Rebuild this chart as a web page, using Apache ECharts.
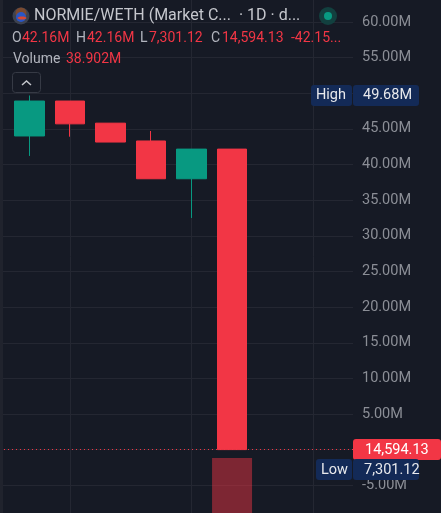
<!DOCTYPE html>
<html><head><meta charset="utf-8">
<style>html,body{margin:0;padding:0;background:#161a25}#c{width:441px;height:513px}</style>
<script src="https://cdn.jsdelivr.net/npm/echarts@6/dist/echarts.min.js"></script>
</head><body><div id="c"></div>
<script>
const categories = ['d1','d2','d3','d4','d5','d6','d7','d8','d9'];
const opens  = [44.0, 48.9, 45.8, 43.3, 38.0, 42.16];
const closes = [48.9, 45.7, 43.15, 38.0, 42.16, 0.0146];
const lows   = [41.2, 43.9, 43.15, 38.0, 32.5, 0.0073];
const highs  = [49.68, 48.9, 45.8, 44.7, 42.16, 42.16];
const volumes = [null, null, null, null, null, 38.902];
const lastClose = 0.0146;
const FONT = 'Roboto';
const UP='#089981', DOWN='#f23645', GRID='#242732', BG='#161a25';
const AX='#8b8e96';

const chart = echarts.init(document.getElementById('c'), null, {renderer:'canvas'});
const yMin=-10, yMax=65;
const gridTop=-13.75, gridBottom=-8;
function txt(x,y,text,fill,size,extra){return Object.assign({type:'text',x,y,z:50,style:{text,fill,font:`${size||14}px ${FONT}`,textVerticalAlign:'middle'}},extra||{});}
function tag(x,y,w,h,fill,r){return {type:'rect',z:40,shape:{x,y,width:w,height:h,r:r||0},style:{fill}};}
const candleData = opens.map((o,i)=>[o,closes[i],lows[i],highs[i]]);
chart.setOption({
  animation:false,
  backgroundColor:BG,
  grid:[
    {left:0,right:88,top:gridTop,bottom:gridBottom,outerBoundsMode:'none'},
    {left:9,right:67,top:gridTop,bottom:gridBottom,outerBoundsMode:'none'},
    {left:9,right:67,top:458,bottom:0,outerBoundsMode:'none'}
  ],
  xAxis:[
    {gridIndex:0,type:'category',data:categories,show:false},
    {gridIndex:1,type:'category',data:categories,axisLine:{show:false},axisTick:{show:false},axisLabel:{show:false},
      splitLine:{show:true,alignWithLabel:true,interval:(i)=>i%3===1,lineStyle:{color:GRID,width:1}}},
    {gridIndex:2,type:'category',data:categories,show:false}
  ],
  yAxis:[
    {gridIndex:0,type:'value',position:'right',min:yMin,max:yMax,interval:5,
      axisLine:{show:false},axisTick:{show:false},
      axisLabel:{color:AX,fontFamily:FONT,fontSize:14.5,margin:9,padding:[2,0,0,0],
        formatter:v=>(v<-5||v>60||v===0)?'':v.toFixed(2)+'M',hideOverlap:false,showMinLabel:true,showMaxLabel:true},
      splitLine:{show:true,lineStyle:{color:GRID,width:1}}},
    {gridIndex:1,type:'value',min:yMin,max:yMax,show:false},
    {gridIndex:2,type:'value',min:0,max:38.902,show:false}
  ],
  series:[
    {type:'line',xAxisIndex:0,yAxisIndex:0,data:[],silent:true,
      markLine:{silent:true,symbol:'none',label:{show:false},
        lineStyle:{color:DOWN,type:[1,3],width:1},data:[{yAxis:lastClose}]}},
    {type:'candlestick',xAxisIndex:1,yAxisIndex:1,barWidth:30,data:candleData,
      itemStyle:{color:UP,color0:DOWN,borderColor:UP,borderColor0:DOWN,borderWidth:1}},
    {type:'bar',xAxisIndex:2,yAxisIndex:2,barWidth:40,data:volumes,
      itemStyle:{color:'rgba(242,54,69,0.47)'}}
  ],
  graphic:[
    tag(0,0,3,513,'#20232d'),
    {type:'circle',z:45,shape:{cx:21,cy:16,r:8.5},style:{fill:'#3d4250'}},
    {type:'circle',z:46,shape:{cx:21,cy:13,r:5.5},style:{fill:'#7a4a30'}},
    {type:'circle',z:47,shape:{cx:21,cy:17,r:5},style:{fill:'#2a56c6'}},
    {type:'ellipse',z:48,shape:{cx:22,cy:18,rx:4.5,ry:1.5},style:{fill:'#d9472f'}},
    txt(34,16,'NORMIE/WETH (Market C...  · 1D · d...','#c5c7cd',16),
    {type:'circle',z:45,shape:{cx:328,cy:16,r:9},style:{fill:'#12403f'}},
    {type:'circle',z:46,shape:{cx:328,cy:16,r:4},style:{fill:'#089981'}},
    txt(12,38,'O','#b2b5be'), txt(22,38,'42.16M',DOWN),
    txt(76,38,'H','#b2b5be'), txt(87,38,'42.16M',DOWN),
    txt(140,38,'L','#b2b5be'), txt(149,38,'7,301.12',DOWN),
    txt(211,38,'C','#b2b5be'), txt(222,38,'14,594.13',DOWN),
    txt(291,38,'-42.15...',DOWN),
    txt(13,59,'Volume','#b2b5be'), txt(66,59,'38.902M',DOWN),
    {type:'rect',z:40,shape:{x:12.5,y:72.5,width:28,height:20,r:3},style:{fill:BG,stroke:'#363a45'}},
    {type:'polyline',z:45,shape:{points:[[22,85],[26.5,81],[31,85]]},style:{stroke:'#c5c7cd',fill:null,lineWidth:1.5}},
    tag(311,85,41,21,'#132a57',3), txt(316,95.5,'High','#e8e9ec',14.5),
    tag(353,85,66,21,'#132a57',3), txt(363,95.5,'49.68M','#e8e9ec',14.5),
    tag(353,439,88,21,DOWN,3), txt(365,450,'14,594.13','#ffffff',14.5),
    tag(316,459,36,21,'#132a57',3), txt(321,470,'Low','#e8e9ec',14.5),
    tag(353,459,66,21,'#132a57',3), txt(364,470,'7,301.12','#e8e9ec',14.5)
  ]
});
</script></body></html>
